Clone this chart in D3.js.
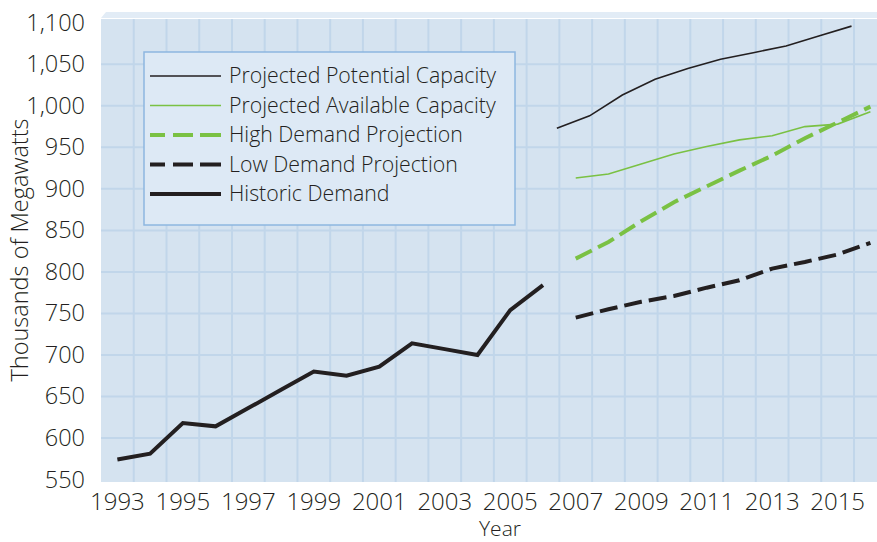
<!DOCTYPE html>
<html>
<head>
<meta charset="utf-8">
<script src="https://cdn.jsdelivr.net/npm/d3@7"></script>
<style>
  body { margin: 0; background: #fff; }
  svg text { font-family: "Open Sans", "Liberation Sans", sans-serif; font-weight: 300; fill: #231f20; }
</style>
</head>
<body>
<script>
// Chart values
const years = d3.range(1993, 2017);
const labelYears = [1993, 1995, 1997, 1999, 2001, 2003, 2005, 2007, 2009, 2011, 2013, 2015];
const yTicks = [550, 600, 650, 700, 750, 800, 850, 900, 950, 1000, 1050, 1100];

const historicYears = d3.range(1993, 2007);
const historicDemand = [574, 581, 618, 614, 636, 658, 680, 675, 686, 714, 707, 700, 754, 784];

const projYears = d3.range(2007, 2017);
const potentialCapacity = [973, 988, 1013, 1032, 1045, 1056, 1064, 1072, 1084, 1096];
const availableCapacity = [913, 918, 930, 942, 951, 959, 964, 975, 978, 993];
const highDemand = [816, 836, 861, 884, 903, 922, 940, 961, 980, 999];
const lowDemand = [745, 755, 764, 771, 781, 790, 804, 812, 821, 835];

const w = 877, h = 542;
const plot = { left: 101, top: 19, right: 877, bottom: 482 };
const black = "#231f20", green = "#7ac143";

const x = d3.scaleBand().domain(years).range([plot.left, plot.left + 24 * 32.74]);
const bw = x.bandwidth();
const y = d3.scaleLinear().domain([550, 1100]).range([479.5, 22.8]);

const svg = d3.select("body").append("svg").attr("width", w).attr("height", h);

// top bevel of the plot panel
svg.append("path")
  .attr("d", `M${plot.left},${plot.top - 1} L${plot.left + 5},${plot.top - 7} L${plot.right},${plot.top - 7} L${plot.right},${plot.top - 1} Z`)
  .attr("fill", "#e2ecf6");

svg.append("rect")
  .attr("x", plot.left).attr("y", plot.top)
  .attr("width", plot.right - plot.left).attr("height", plot.bottom - plot.top)
  .attr("fill", "#d5e3f0");

svg.append("clipPath").attr("id", "clip")
  .append("rect")
  .attr("x", plot.left).attr("y", plot.top)
  .attr("width", plot.right - plot.left).attr("height", plot.bottom - plot.top);

// grid
const grid = svg.append("g").attr("clip-path", "url(#clip)")
  .attr("stroke", "#c1d6ea").attr("stroke-width", 2);
grid.selectAll(".v").data(years.slice(1)).join("line")
  .attr("x1", d => x(d)).attr("x2", d => x(d))
  .attr("y1", plot.top).attr("y2", plot.bottom);
grid.selectAll(".h").data(yTicks.slice(1, -1)).join("line")
  .attr("x1", plot.left).attr("x2", plot.right)
  .attr("y1", d => y(d)).attr("y2", d => y(d));

// axes (labels only)
const yAxis = svg.append("g")
  .attr("transform", `translate(${plot.left},0)`)
  .call(d3.axisLeft(y).tickValues(yTicks).tickFormat(d3.format(",")).tickSize(0).tickPadding(16));
yAxis.select(".domain").remove();
yAxis.selectAll("text").attr("font-size", 23.5).attr("fill", black).attr("font-family", null);

const xAxis = svg.append("g")
  .attr("transform", `translate(0,${plot.bottom})`)
  .call(d3.axisBottom(x).tickValues(labelYears).tickSize(0).tickPadding(0));
xAxis.select(".domain").remove();
xAxis.selectAll("text").attr("font-size", 24).attr("fill", black).attr("font-family", null)
  .attr("dy", null).attr("y", 28);

svg.append("text")
  .attr("transform", "translate(28,250) rotate(-90)")
  .attr("text-anchor", "middle").attr("font-size", 23.5)
  .text("Thousands of Megawatts");
svg.append("text")
  .attr("x", 500).attr("y", 536)
  .attr("text-anchor", "middle").attr("font-size", 21)
  .text("Year");

// lines
const lines = svg.append("g").attr("clip-path", "url(#clip)").attr("fill", "none");
const centerLine = yrs => d3.line().x((d, i) => x(yrs[i]) + bw / 2).y(d => y(d));
const edgeLine = yrs => d3.line().x((d, i) => x(yrs[i]) - 2.5).y(d => y(d));

lines.append("path").datum(historicDemand)
  .attr("d", centerLine(historicYears))
  .attr("stroke", black).attr("stroke-width", 4);
lines.append("path").datum(potentialCapacity)
  .attr("d", edgeLine(projYears))
  .attr("stroke", black).attr("stroke-width", 1.6);
lines.append("path").datum(availableCapacity)
  .attr("d", centerLine(projYears))
  .attr("stroke", green).attr("stroke-width", 1.6);
lines.append("path").datum(highDemand)
  .attr("d", centerLine(projYears))
  .attr("stroke", green).attr("stroke-width", 4).attr("stroke-dasharray", "18,7");
lines.append("path").datum(lowDemand)
  .attr("d", centerLine(projYears))
  .attr("stroke", black).attr("stroke-width", 4).attr("stroke-dasharray", "18,7");

// legend
const legendItems = [
  { name: "Projected Potential Capacity", color: black, width: 1.6, dash: null },
  { name: "Projected Available Capacity", color: green, width: 1.6, dash: null },
  { name: "High Demand Projection", color: green, width: 4, dash: "15,8,20,7,21" },
  { name: "Low Demand Projection", color: black, width: 4, dash: "15,8,20,7,21" },
  { name: "Historic Demand", color: black, width: 4, dash: null }
];
const legend = svg.append("g").attr("transform", "translate(144,52)");
legend.append("rect")
  .attr("width", 371).attr("height", 173)
  .attr("fill", "#dde9f5").attr("stroke", "#8db7df").attr("stroke-width", 1.5);
const row = legend.selectAll(".item").data(legendItems).join("g")
  .attr("transform", (d, i) => `translate(0,${24 + i * 29.5})`);
row.append("line")
  .attr("x1", 6).attr("x2", 77)
  .attr("stroke", d => d.color).attr("stroke-width", d => d.width)
  .attr("stroke-dasharray", d => d.dash);
row.append("text")
  .attr("x", 85).attr("dy", "0.35em").attr("font-size", 21.3)
  .text(d => d.name);
</script>
</body>
</html>
